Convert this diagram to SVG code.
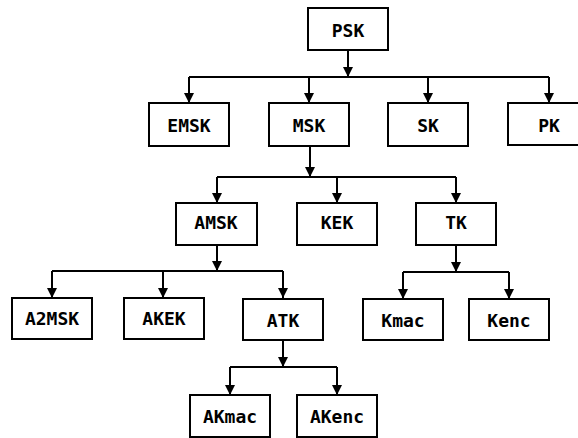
<svg xmlns="http://www.w3.org/2000/svg" width="578" height="438" viewBox="0 0 578 438">
  <style>
    .box { fill: #ffffff; stroke: #000000; stroke-width: 2; }
    .wire { fill: none; stroke: #000000; stroke-width: 2; }
    .lbl { font-family: "DejaVu Sans Mono", monospace; font-weight: bold; font-size: 18px; text-anchor: middle; fill: #000000; }
  </style>
  <defs>
    <marker id="arrow" viewBox="0 0 10 10" refX="10" refY="5" markerWidth="10" markerHeight="10" markerUnits="userSpaceOnUse" orient="auto">
      <path d="M0,0 L10,5 L0,10 Z" fill="#000000"/>
    </marker>
  </defs>
  <rect width="578" height="438" fill="#ffffff"/>

  <g id="connectors">
    <!-- PSK to its children -->
    <path class="wire" d="M348,50 V77" marker-end="url(#arrow)"/>
    <path class="wire" d="M189,77 H549"/>
    <path class="wire" d="M189,77 V103" marker-end="url(#arrow)"/>
    <path class="wire" d="M309,77 V103" marker-end="url(#arrow)"/>
    <path class="wire" d="M428,77 V103" marker-end="url(#arrow)"/>
    <path class="wire" d="M549,77 V103" marker-end="url(#arrow)"/>
    <!-- MSK to its children -->
    <path class="wire" d="M310,146 V177" marker-end="url(#arrow)"/>
    <path class="wire" d="M217,177 H456"/>
    <path class="wire" d="M217,177 V203" marker-end="url(#arrow)"/>
    <path class="wire" d="M337,177 V203" marker-end="url(#arrow)"/>
    <path class="wire" d="M456,177 V203" marker-end="url(#arrow)"/>
    <!-- AMSK to its children -->
    <path class="wire" d="M217,245 V271" marker-end="url(#arrow)"/>
    <path class="wire" d="M52,271 H283"/>
    <path class="wire" d="M52,271 V298" marker-end="url(#arrow)"/>
    <path class="wire" d="M163,271 V298" marker-end="url(#arrow)"/>
    <path class="wire" d="M283,271 V298" marker-end="url(#arrow)"/>
    <!-- TK to its children -->
    <path class="wire" d="M456,245 V272" marker-end="url(#arrow)"/>
    <path class="wire" d="M403,272 H509"/>
    <path class="wire" d="M403,272 V299" marker-end="url(#arrow)"/>
    <path class="wire" d="M509,272 V299" marker-end="url(#arrow)"/>
    <!-- ATK to its children -->
    <path class="wire" d="M283,340 V367" marker-end="url(#arrow)"/>
    <path class="wire" d="M230,367 H337"/>
    <path class="wire" d="M230,367 V395" marker-end="url(#arrow)"/>
    <path class="wire" d="M337,367 V395" marker-end="url(#arrow)"/>
  </g>

  <g id="PSK"><rect class="box" x="308" y="8" width="80" height="42"/><text class="lbl" x="348" y="37">PSK</text></g>
  <g id="EMSK"><rect class="box" x="149" y="103" width="80" height="43"/><text class="lbl" x="189" y="132">EMSK</text></g>
  <g id="MSK"><rect class="box" x="269" y="103" width="80" height="43"/><text class="lbl" x="309" y="132">MSK</text></g>
  <g id="SK"><rect class="box" x="388" y="103" width="80" height="43"/><text class="lbl" x="428" y="132">SK</text></g>
  <g id="PK"><rect class="box" x="508" y="103" width="80" height="42"/><text class="lbl" x="549" y="132">PK</text></g>
  <g id="AMSK"><rect class="box" x="176" y="203" width="81" height="42"/><text class="lbl" x="216" y="229">AMSK</text></g>
  <g id="KEK"><rect class="box" x="297" y="203" width="80" height="42"/><text class="lbl" x="337" y="229">KEK</text></g>
  <g id="TK"><rect class="box" x="416" y="203" width="80" height="42"/><text class="lbl" x="456" y="229">TK</text></g>
  <g id="A2MSK"><rect class="box" x="12" y="298" width="80" height="41"/><text class="lbl" x="52" y="325">A2MSK</text></g>
  <g id="AKEK"><rect class="box" x="124" y="298" width="80" height="41"/><text class="lbl" x="164" y="325">AKEK</text></g>
  <g id="ATK"><rect class="box" x="243" y="299" width="80" height="41"/><text class="lbl" x="283" y="327">ATK</text></g>
  <g id="Kmac"><rect class="box" x="363" y="299" width="80" height="41"/><text class="lbl" x="403" y="327">Kmac</text></g>
  <g id="Kenc"><rect class="box" x="469" y="299" width="80" height="41"/><text class="lbl" x="509" y="327">Kenc</text></g>
  <g id="AKmac"><rect class="box" x="190" y="395" width="80" height="42"/><text class="lbl" x="230" y="423">AKmac</text></g>
  <g id="AKenc"><rect class="box" x="297" y="395" width="80" height="42"/><text class="lbl" x="337" y="423">AKenc</text></g>
</svg>
